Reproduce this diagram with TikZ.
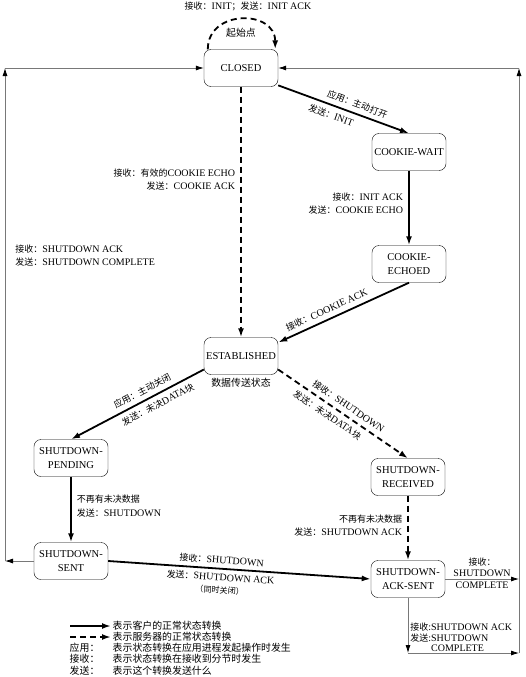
\documentclass[tikz,border=0pt]{standalone}
\usepackage{fontspec}
\setmainfont{Liberation Serif}
\newfontfamily\cjk[Scale=0.9]{Noto Sans CJK SC}
\usetikzlibrary{arrows.meta}
\definecolor{bdr}{RGB}{120, 120, 120}
\newcommand{\zh}[1]{{\cjk #1}}

\begin{document}
\begin{tikzpicture}[x=1pt, y=-1pt,
    state/.style={draw, rounded corners=7pt, minimum width=74pt, minimum height=37pt, align=center, inner sep=1pt, font=\fontsize{10.5}{13.5}\selectfont},
    cli/.style={line width=1.8pt, -{Latex[length=9pt, width=6pt]}},
    srv/.style={line width=1.8pt, dash pattern=on 6pt off 4pt, -{Latex[length=9pt, width=6pt]}},
    aux/.style={draw=bdr, line width=0.8pt, -{Latex[length=8pt, width=5pt, color=black]}},
    lab/.style={inner sep=2pt, font=\fontsize{10}{13.5}\selectfont},
    lgd/.style={anchor=west, inner sep=1.5pt, font=\fontsize{11}{11}\selectfont}]
      \useasboundingbox (0, 0) rectangle (526, 677);
      % states
      \node[state] (closed) at (241, 68) {CLOSED};
      \node[state] (wait) at (409, 152) {COOKIE-WAIT};
      \node[state] (echoed) at (409, 264) {COOKIE-\\ECHOED};
      \node[state] (est) at (241, 356) {ESTABLISHED};
      \node[state] (pending) at (71, 458) {SHUTDOWN-\\PENDING};
      \node[state] (received) at (408, 477) {SHUTDOWN-\\RECEIVED};
      \node[state] (sent) at (71, 561) {SHUTDOWN-\\SENT};
      \node[state] (acksent) at (408, 579) {SHUTDOWN-\\ACK-SENT};
      \node[lab, font=\fontsize{11}{12}\selectfont] (start) at (241, 33) {\zh{起始点}};
      \node[lab] (initlab) at (248, 6) {\zh{接收：}INIT\zh{；发送：}INIT ACK};
      \node[lab, below=1pt, font=\fontsize{11}{12}\selectfont] (estnote) at (est.south) {\zh{数据传送状态}};
      % normal transitions
      \draw[srv] ([xshift=4pt]closed.north west) .. controls +(0, -40) and +(0, -40) .. ([xshift=-3pt]closed.north east);
      \draw[cli] (closed.-25) -- node[lab, above=2.5pt, sloped, pos=0.58] {\zh{应用：主动打开}} node[lab, below=2.5pt, sloped, pos=0.43] {\zh{发送：}INIT} (wait.north);
      \draw[srv] (closed) -- node[lab, left=3pt, align=right, pos=0.37] {\zh{接收：有效的}COOKIE ECHO\\\zh{发送：}COOKIE ACK} (est);
      \draw[cli] (wait) -- node[lab, left=3pt, align=right, pos=0.44] {\zh{接收：}INIT ACK\\\zh{发送：}COOKIE ECHO} (echoed);
      \draw[cli] (echoed.south) -- node[lab, above=2.5pt, sloped, pos=0.6] {\zh{接收：}COOKIE ACK} (est.20);
      \draw[cli] (est.200) -- node[lab, above=2.5pt, sloped, pos=0.43] {\zh{应用：主动关闭}} node[lab, below=2.5pt, sloped, pos=0.38] {\zh{发送：未决}DATA\zh{块}} (pending.north);
      \draw[srv] (est.-20) -- node[lab, above=2.5pt, sloped, pos=0.5] {\zh{接收：}SHUTDOWN} node[lab, below=2.5pt, sloped, pos=0.42] {\zh{发送：未决}DATA\zh{块}} (received.north);
      \draw[cli] (pending) -- node[lab, right=3pt, align=left, pos=0.45] {\zh{不再有未决数据}\\\zh{发送：}SHUTDOWN} (sent);
      \draw[srv] (received) -- node[lab, left=3pt, align=right, pos=0.46] {\zh{不再有未决数据}\\\zh{发送：}SHUTDOWN ACK} (acksent);
      \draw[cli] (sent.east) -- node[lab, above=1.5pt, sloped, pos=0.43] {\zh{接收：}SHUTDOWN} node[lab, below=1.5pt, sloped, pos=0.43, align=center, font=\fontsize{10}{12.5}\selectfont] {\zh{发送：}SHUTDOWN ACK\\{\fontsize{9}{10}\selectfont\zh{（同时关闭）}}} (acksent.west);
      % back to CLOSED
      \coordinate (tl) at (5, 68);
      \coordinate (tr) at (519, 68);
      \coordinate (bl) at (5, 561);
      \coordinate (br) at (519, 653);
      \coordinate (rx) at (519, 579);
      \coordinate (dn) at (408, 653);
      \draw[aux] (sent.west) -- (bl);
      \draw[aux] (bl) -- node[lab, right=8pt, align=left, pos=0.62] {\zh{接收：}SHUTDOWN ACK\\\zh{发送：}SHUTDOWN COMPLETE} (tl);
      \draw[aux] (tl) -- (closed.west);
      \draw[aux] (acksent.east) -- node[lab, above, align=center, font=\fontsize{10}{11}\selectfont] {\zh{接收：}\\SHUTDOWN} node[lab, below] {COMPLETE} (rx);
      \draw[aux] (acksent.south) -- node[lab, right=0pt, align=left, pos=0.73, font=\fontsize{10}{10.5}\selectfont] {\zh{接收}:SHUTDOWN ACK\\\zh{发送}:SHUTDOWN\\\phantom{\zh{发送}:}COMPLETE} (dn);
      \draw[aux] (dn) -- (br);
      \draw[aux] (br) -- (tr);
      \draw[aux] (tr) -- (closed.east);
      % legend
      \coordinate (lga) at (70, 626);
      \coordinate (lgb) at (70, 637);
      \node[lgd] (lgc) at (111, 626) {\zh{表示客户的正常状态转换}};
      \node[lgd] (lgs) at (111, 637) {\zh{表示服务器的正常状态转换}};
      \draw[cli] (lga) -- (lgc.west);
      \draw[srv] (lgb) -- (lgs.west);
      \node[lgd] (lgk1) at (68, 648) {\zh{应用：}};
      \node[lgd] (lgt1) at (111, 648) {\zh{表示状态转换在应用进程发起操作时发生}};
      \node[lgd] (lgk2) at (68, 659) {\zh{接收：}};
      \node[lgd] (lgt2) at (111, 659) {\zh{表示状态转换在接收到分节时发生}};
      \node[lgd] (lgk3) at (68, 671) {\zh{发送：}};
      \node[lgd] (lgt3) at (111, 671) {\zh{表示这个转换发送什么}};
    \end{tikzpicture}
\end{document}
